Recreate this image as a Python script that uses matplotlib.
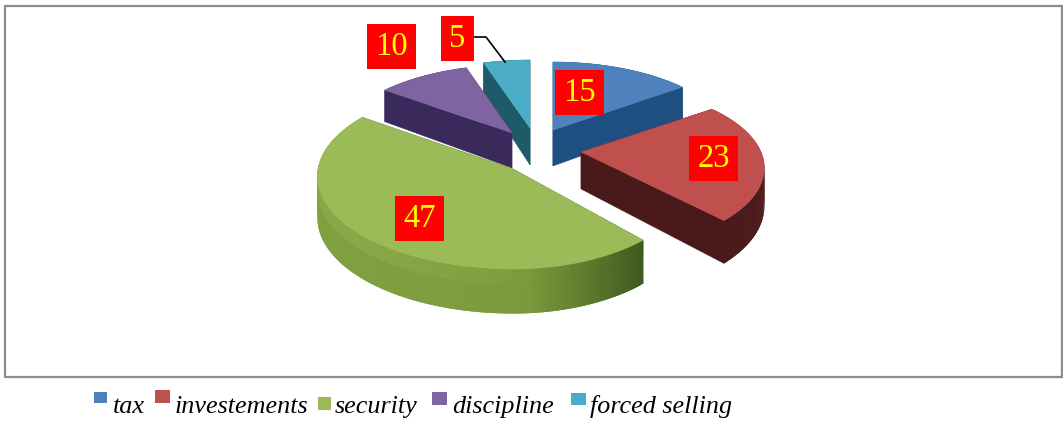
import numpy as np
import matplotlib
matplotlib.use("Agg")
import matplotlib.pyplot as plt
from matplotlib.patches import Polygon, Rectangle
from matplotlib.collections import PolyCollection
from matplotlib.colors import to_rgb

# --- data
categories = ["tax", "investements", "security", "discipline", "forced selling"]
values = [15, 23, 47, 10, 5]

# --- style
top_colors = ["#4f81bd", "#c0504d", "#9bbb59", "#8064a2", "#4bacc6"]
side_stops = [["#1f4f80", "#1f4f80"], ["#5a2020", "#4a1a1a"],
              ["#80a040", "#7a9a3c", "#3f5a1e"], ["#3a2a5c", "#3a2a5c"], ["#1f5a68", "#1f5a68"]]
apex = [(553, 130), (581, 152), (513, 169), (512, 133), (530, 128)]
r_right = [178, 180, 179, 165, 178]
r_left = [195, 195, 195, 175, 178]
ry = [81, 81, 92, 81, 81]
persp = [0.19, 0.19, 0.08, 0.19, 0.19]
depth = [36, 37, 41, 35, 37]
label_boxes = [(555, 70, 49, 45), (689, 136, 49, 45), (395, 196, 49, 45), (367, 24, 49, 45), (441, 16, 33, 45)]
legend_sq = [(94, 392, 13, 11), (155, 390, 15, 13), (318, 397, 13, 13), (432, 392, 15, 13), (571, 393, 15, 12)]
legend_tx = [113, 175, 335, 452, 590]
draw_order = [4, 3, 0, 1, 2]

fig = plt.figure(figsize=(10.63, 4.21), dpi=100)
ax = fig.add_axes([0, 0, 1, 1])
ax.set_xlim(0, 1063)
ax.set_ylim(421, 0)
ax.axis("off")

ax.add_patch(Rectangle((4.5, 5.5), 1057, 371, fill=False, ec="#8c8c8c", lw=1.6, zorder=1))


def project(i, theta):
    u, v = np.sin(theta), np.cos(theta)
    s = 1 / (1 + persp[i] * v)
    r = np.where(u >= 0, r_right[i], r_left[i])
    return apex[i][0] + u * r * s, apex[i][1] - v * ry[i] * s, depth[i] * s


edges = np.deg2rad(np.cumsum([0] + values) * 3.6)
z = 2
for i in draw_order:
    th = np.linspace(edges[i], edges[i + 1], max(int(values[i]) * 4, 12))
    x, y, d = project(i, th)
    ax0, ay0 = apex[i]
    # straight walls, the one further back first
    walls = sorted([(x[0], y[0], d[0]), (x[-1], y[-1], d[-1])], key=lambda w: w[1])
    col0 = side_stops[i][-1]
    for wx, wy, wd in walls:
        ax.add_patch(Polygon([(ax0, ay0), (wx, wy), (wx, wy + wd), (ax0, ay0 + depth[i])],
                             fc=col0, ec=col0, lw=0.3, zorder=z))
    # outer wall with shading along the arc, quads overlap to hide seams
    stops = np.array([to_rgb(c) for c in side_stops[i]])
    pos = np.linspace(0, 1, len(stops))
    t = np.linspace(0, 1, len(th) - 1)
    if i == 2:
        t = np.clip((x[:-1] - x.min()) / (x.max() - x.min()), 0, 1) ** 1.6
    cols = np.column_stack([np.interp(t, pos, stops[:, k]) for k in range(3)])
    quads = []
    for j in range(len(th) - 1):
        e = min(j + 2, len(th) - 1)
        quads.append([(x[j], y[j]), (x[e], y[e]), (x[e], y[e] + d[e]), (x[j], y[j] + d[j])])
    ax.add_collection(PolyCollection(quads, facecolors=cols, edgecolors="none", zorder=z + 0.1))
    if i == 2:
        # faint lighter bevel along the upper rim, fading to the right
        w = 0.35 * np.clip(1 - t / 0.5, 0, 1)[:, None]
        light = cols * (1 - w) + np.array(to_rgb(top_colors[i])) * w
        band = []
        for j in range(len(th) - 1):
            e = min(j + 2, len(th) - 1)
            band.append([(x[j], y[j]), (x[e], y[e]), (x[e], y[e] + d[e] * 0.35), (x[j], y[j] + d[j] * 0.35)])
        ax.add_collection(PolyCollection(band, facecolors=light, edgecolors="none", zorder=z + 0.15))
    # top face
    ax.add_patch(Polygon(np.column_stack([np.r_[ax0, x], np.r_[ay0, y]]),
                         fc=top_colors[i], ec=top_colors[i], lw=0.3, zorder=z + 0.2))
    z += 1

# leader line of the smallest slice
ax.plot([474, 486, 505], [37, 37, 62], color="black", lw=1.2, zorder=9)

# value labels
for val, (bx, by, bw, bh) in zip(values, label_boxes):
    ax.add_patch(Rectangle((bx, by), bw, bh, fc="#ff0000", ec="none", zorder=10))
    ax.text(bx + bw / 2, by + bh / 2 + 0.5, str(val), color="#ffff00", fontsize=23.5,
            family="Liberation Serif", ha="center", va="center", zorder=11)

# legend
for name, col, (sx, sy, sw, sh), tx in zip(categories, top_colors, legend_sq, legend_tx):
    ax.add_patch(Rectangle((sx, sy), sw, sh, fc=col, ec="none", zorder=3))
    ax.text(tx, 413, name, fontsize=18.8, style="italic", family="Liberation Serif",
            ha="left", va="baseline", color="black", zorder=3)

fig.savefig("out.png", dpi=100, facecolor="white")
